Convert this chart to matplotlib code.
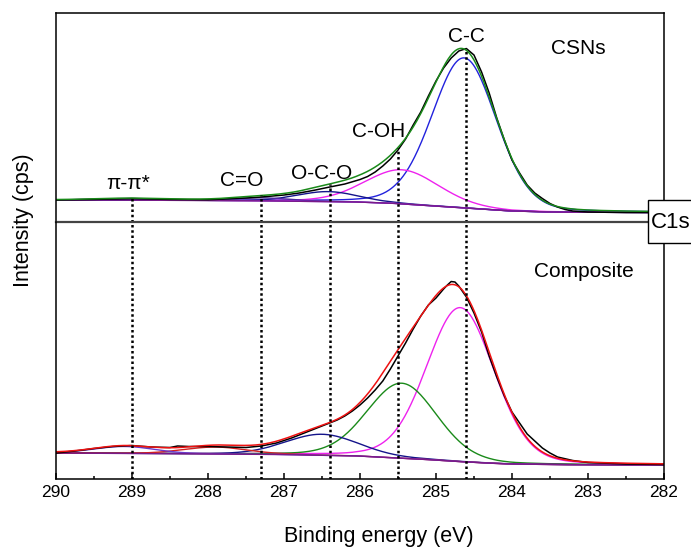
import numpy as np
import matplotlib
matplotlib.use("Agg")
import matplotlib.pyplot as plt
from matplotlib.patches import Rectangle
from matplotlib.ticker import MultipleLocator

plt.rcParams['font.family'] = ['Liberation Sans', 'DejaVu Sans']

top_raw_E = [290.0, 289.5, 289.0, 288.5, 288.0, 287.5, 287.3, 287.0, 286.8, 286.6,
             286.4, 286.2, 286.0, 285.9, 285.8, 285.7, 285.6, 285.5, 285.4, 285.3,
             285.2, 285.1, 285.0, 284.9, 284.8, 284.7, 284.6, 284.5, 284.4, 284.3,
             284.2, 284.1, 284.0, 283.9, 283.8, 283.7, 283.6, 283.5, 283.4, 283.3,
             283.2, 283.0, 282.5, 282.0]
top_raw_I = [22.0, 22.6, 23.4, 22.6, 22.3, 24.0, 25.0, 27.0, 29.0, 31.8,
             35.0, 38.0, 42.5, 45.5, 50.0, 56.0, 63.0, 72.0, 83.0, 97.0,
             110.0, 126.0, 141.0, 154.0, 164.0, 171.0, 173.5, 167.0, 150.0, 129.0,
             104.0, 82.0, 62.0, 49.0, 37.0, 29.0, 23.5, 18.5, 15.0, 12.5,
             11.0, 10.0, 9.5, 9.5]
top_base_E = [290, 289, 288, 287, 286, 285.5, 285.0, 284.6, 284.2, 284.0, 283.5, 283.0, 282.0]
top_base_I = [22, 22, 21.5, 21, 20, 18.5, 16, 14, 12, 11, 10, 9.7, 9.5]
# fitted components: C-C, C-OH, O-C-O, C=O, pi-pi*
top_centre = [284.63, 285.45, 286.42, 287.3, 289.0]
top_fwhm = [1.0, 1.15, 0.95, 0.9, 1.1]
top_height = [150, 34, 10, 3, 1.5]
top_colors = ['#2222dd', '#ee22ee', '#14148a', '#4b2a9e', '#8a2be2']

# ---- Composite (bottom) ----
bot_raw_E = [290.0, 289.75, 289.5, 289.25, 289.0, 288.75, 288.5, 288.4, 288.25, 288.0,
             287.75, 287.5, 287.3, 287.1, 286.9, 286.7, 286.5, 286.3, 286.2, 286.1,
             286.0, 285.9, 285.8, 285.7, 285.6, 285.5, 285.4, 285.3, 285.2, 285.1,
             285.0, 284.9, 284.85, 284.8, 284.75, 284.7, 284.6, 284.5, 284.4, 284.3,
             284.2, 284.1, 284.0, 283.9, 283.8, 283.7, 283.6, 283.5, 283.4, 283.2,
             283.0, 282.5, 282.0]
bot_raw_I = [26, 28, 30.5, 32.5, 33.5, 32, 31.5, 33, 32.5, 32.5,
             32, 31.5, 33, 36, 41, 47, 53, 59, 63, 68,
             74, 81, 89, 98, 110, 123, 136, 150, 163, 174,
             181, 190, 194, 197.5, 197, 193, 182, 166, 147, 123,
             102, 83, 67, 56, 45, 38, 31, 26, 22, 18.5,
             16.5, 15, 14.5]
bot_base_E = [290, 289, 288, 287, 286, 285.5, 285.0, 284.6, 284.2, 284.0, 283.5, 283.0, 282.0]
bot_base_I = [26, 25.5, 25, 24.5, 23, 21, 19, 17, 15.5, 15, 14.5, 14.2, 14]
# components: C-C, C-OH, O-C-O, C=O, pi-pi*
bot_centre = [284.68, 285.45, 286.5, 287.9, 289.1]
bot_fwhm = [1.05, 1.08, 1.13, 1.0, 0.95]
bot_height = [154, 75, 21, 7, 7]
bot_colors = ['#ee22ee', '#1a8a1a', '#14148a', '#d42020', '#6a3acc']

peak_E = [289.0, 287.3, 286.4, 285.5, 284.6]
peak_names = ['π-π*', 'C=O', 'O-C-O', 'C-OH', 'C-C']
label_E = [289.05, 287.55, 286.5, 285.75, 284.6]
label_I = [39, 42, 49, 91, 186]


def pv(e, c, f, h, eta=0.15):
    d = (e - c) / f
    return h * (eta / (1 + 4 * d ** 2) + (1 - eta) * np.exp(-4 * np.log(2) * d ** 2))


E = np.linspace(282, 290, 801)

fig = plt.figure(figsize=(6.91, 5.47), dpi=100)
ax_t = fig.add_axes([0.0810, 0.5941, 0.8799, 0.3821])
ax_b = fig.add_axes([0.0810, 0.1243, 0.8799, 0.4698])
ax_b.patch.set_alpha(0)


def draw(ax, raw_E, raw_I, bE, bI, cen, fw, hh, cols, env_col):
    base = np.interp(E, bE[::-1], bI[::-1])
    env = base.copy()
    for c, f, h, col in zip(cen, fw, hh, cols):
        comp = pv(E, c, f, h)
        env += comp
        ax.plot(E, base + comp, color=col, lw=1.0)
    ax.plot(E, base, color='#7a1a88', lw=1.0)
    ax.plot(raw_E, raw_I, color='black', lw=1.1)
    ax.plot(E, env, color=env_col, lw=1.1)
    return env


env_t = draw(ax_t, top_raw_E, top_raw_I, top_base_E, top_base_I,
             top_centre, top_fwhm, top_height, top_colors, '#1a8a1a')
draw(ax_b, bot_raw_E, bot_raw_I, bot_base_E, bot_base_I,
     bot_centre, bot_fwhm, bot_height, bot_colors, '#ee1111')

dots = dict(color='black', lw=1.8, ls=(0, (1, 1.1)))
for pe in peak_E:
    top_y = np.interp(pe, E, env_t)
    ax_t.plot([pe, pe], [0, top_y], **dots)
    ax_b.axvline(pe, **dots)

for ax in (ax_t, ax_b):
    ax.set_xlim(290, 282)
    ax.set_yticks([])
    for s in ax.spines.values():
        s.set_linewidth(1.1)
ax_t.set_ylim(0, 209)
ax_b.set_ylim(0, 257)
ax_t.set_xticks([])
ax_t.spines['bottom'].set_color('#444444')
ax_t.spines['bottom'].set_linewidth(1.6)
ax_b.spines['top'].set_visible(False)

ax_b.xaxis.set_major_locator(MultipleLocator(1))
ax_b.xaxis.set_minor_locator(MultipleLocator(0.5))
ax_b.tick_params(axis='x', which='major', direction='in', length=4, width=1.1,
                 labelsize=12.5, pad=4)
ax_b.tick_params(axis='x', which='minor', direction='in', length=2.2, width=1.1)

for name, le, li in zip(peak_names, label_E, label_I):
    ax_t.text(le, li, name, ha='center', va='center', fontsize=15)
ax_t.text(283.13, 174, 'CSNs', ha='center', va='center', fontsize=15)
ax_b.text(283.05, 208, 'Composite', ha='center', va='center', fontsize=15)

fig.text(379 / 691, 5 / 547, 'Binding energy (eV)', ha='center', va='baseline', fontsize=15.5)
fig.text(23 / 691, 1 - 220 / 547, 'Intensity (cps)', ha='center', va='center',
         rotation=90, fontsize=15.5)

fig.patches.append(Rectangle((648 / 691, 1 - 243 / 547), 60 / 691, 43 / 547,
                             transform=fig.transFigure, fc='white', ec='black',
                             lw=1.0, zorder=5))
fig.text(651 / 691, 1 - 222 / 547, 'C1s', ha='left', va='center', fontsize=16, zorder=6)

fig.savefig('out.png', dpi=100)
